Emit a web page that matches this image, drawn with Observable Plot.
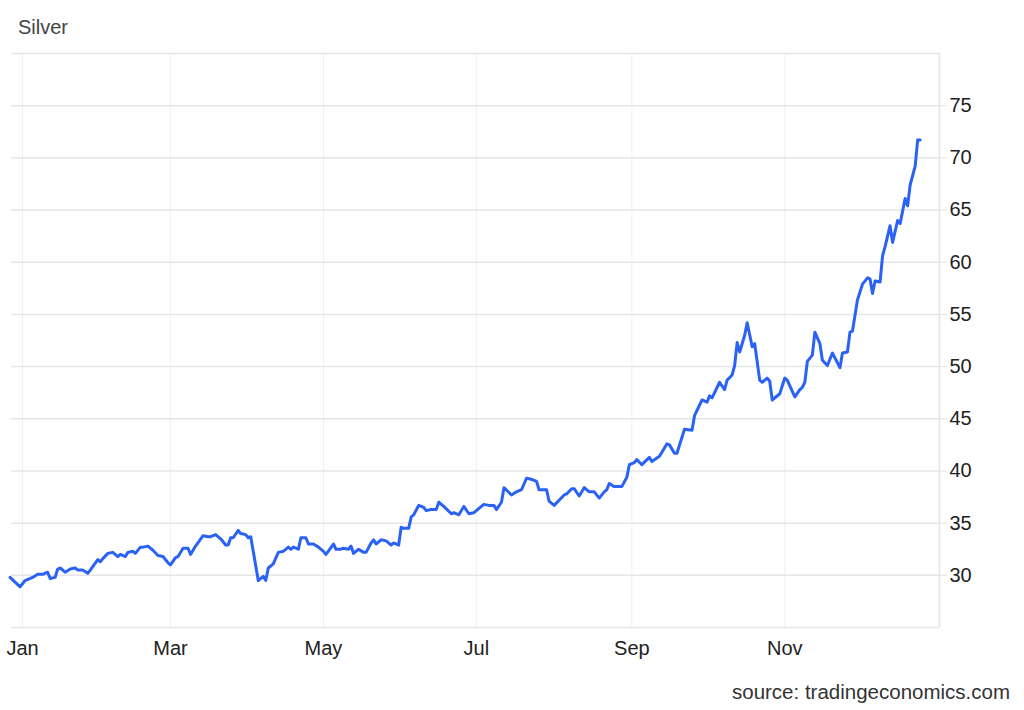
<!DOCTYPE html>
<html>
<head>
<meta charset="utf-8">
<script src="https://cdn.jsdelivr.net/npm/d3@7"></script>
<script src="https://cdn.jsdelivr.net/npm/@observablehq/plot@0.6"></script>
<style>
  html, body { margin: 0; padding: 0; background: #fff; }
  #wrap { position: relative; width: 1024px; height: 710px; font-family: "Liberation Sans", Arial, sans-serif; }
  #title { position: absolute; left: 18px; top: 16px; font-size: 20px; color: #444; }
  #source { position: absolute; right: 14px; top: 680px; font-size: 20.5px; color: #333; }
  #chart { position: absolute; left: 0; top: 0; }
</style>
</head>
<body>
<div id="wrap">
  <div id="chart"></div>
  <div id="title">Silver</div>
  <div id="source">source: tradingeconomics.com</div>
</div>
<script>
const dates = [
  "2024-12-27","2024-12-31","2025-01-02","2025-01-05","2025-01-07","2025-01-09","2025-01-11","2025-01-12","2025-01-14","2025-01-15",
  "2025-01-16","2025-01-18","2025-01-20","2025-01-22","2025-01-23","2025-01-25","2025-01-27","2025-01-28","2025-01-31","2025-02-01",
  "2025-02-02","2025-02-04","2025-02-06","2025-02-08","2025-02-09","2025-02-11","2025-02-12","2025-02-14","2025-02-15","2025-02-17",
  "2025-02-18","2025-02-20","2025-02-22","2025-02-24","2025-02-26","2025-02-28","2025-03-01","2025-03-03","2025-03-04","2025-03-06",
  "2025-03-08","2025-03-09","2025-03-11","2025-03-14","2025-03-16","2025-03-17","2025-03-19","2025-03-21","2025-03-23","2025-03-24",
  "2025-03-25","2025-03-26","2025-03-28","2025-03-29","2025-03-31","2025-04-01","2025-04-02","2025-04-05","2025-04-07","2025-04-08",
  "2025-04-09","2025-04-11","2025-04-13","2025-04-15","2025-04-17","2025-04-18","2025-04-19","2025-04-21","2025-04-22","2025-04-24",
  "2025-04-25","2025-04-27","2025-04-29","2025-05-01","2025-05-02","2025-05-05","2025-05-06","2025-05-08","2025-05-09","2025-05-11",
  "2025-05-12","2025-05-13","2025-05-15","2025-05-17","2025-05-18","2025-05-20","2025-05-21","2025-05-22","2025-05-24","2025-05-26",
  "2025-05-28","2025-05-29","2025-05-31","2025-06-01","2025-06-02","2025-06-04","2025-06-05","2025-06-06","2025-06-08","2025-06-10",
  "2025-06-11","2025-06-13","2025-06-15","2025-06-16","2025-06-18","2025-06-21","2025-06-22","2025-06-24","2025-06-26","2025-06-28",
  "2025-06-30","2025-07-03","2025-07-04","2025-07-06","2025-07-08","2025-07-09","2025-07-11","2025-07-12","2025-07-15","2025-07-17",
  "2025-07-19","2025-07-21","2025-07-23","2025-07-25","2025-07-26","2025-07-29","2025-07-30","2025-08-01","2025-08-03","2025-08-05",
  "2025-08-06","2025-08-08","2025-08-09","2025-08-11","2025-08-13","2025-08-15","2025-08-17","2025-08-19","2025-08-21","2025-08-22",
  "2025-08-23","2025-08-25","2025-08-28","2025-08-30","2025-08-31","2025-09-02","2025-09-03","2025-09-05","2025-09-08","2025-09-09",
  "2025-09-12","2025-09-13","2025-09-15","2025-09-16","2025-09-18","2025-09-19","2025-09-22","2025-09-25","2025-09-26","2025-09-29",
  "2025-10-01","2025-10-02","2025-10-03","2025-10-06","2025-10-08","2025-10-09","2025-10-11","2025-10-12","2025-10-13","2025-10-14",
  "2025-10-16","2025-10-17","2025-10-19","2025-10-20","2025-10-22","2025-10-23","2025-10-25","2025-10-26","2025-10-27","2025-10-30",
  "2025-11-01","2025-11-02","2025-11-05","2025-11-07","2025-11-08","2025-11-09","2025-11-10","2025-11-12","2025-11-13","2025-11-15",
  "2025-11-16","2025-11-18","2025-11-20","2025-11-23","2025-11-24","2025-11-26","2025-11-27","2025-11-28","2025-11-30","2025-12-02",
  "2025-12-04","2025-12-05","2025-12-06","2025-12-07","2025-12-09","2025-12-10","2025-12-11","2025-12-13","2025-12-14","2025-12-16",
  "2025-12-17","2025-12-19","2025-12-20","2025-12-21","2025-12-23","2025-12-24","2025-12-25"
];
const values = [
  29.8,28.9,29.5,29.8,30.1,30.1,30.3,29.7,29.8,30.6,
  30.7,30.3,30.6,30.7,30.5,30.5,30.2,30.5,31.5,31.3,
  31.6,32.1,32.2,31.8,32.0,31.8,32.2,32.3,32.1,32.7,
  32.7,32.8,32.4,31.9,31.8,31.2,31.0,31.7,31.8,32.6,
  32.6,32.0,32.8,33.8,33.7,33.7,33.9,33.5,32.9,32.9,
  33.6,33.6,34.3,34.0,33.9,33.6,33.7,29.5,29.9,29.5,
  30.7,31.1,32.2,32.3,32.7,32.5,32.7,32.5,33.6,33.6,
  33.0,33.0,32.7,32.3,32.0,33.0,32.5,32.5,32.6,32.5,
  32.8,32.1,32.5,32.2,32.2,33.1,33.4,33.0,33.4,33.3,
  32.9,33.1,32.9,34.6,34.5,34.5,35.6,35.8,36.7,36.5,
  36.2,36.3,36.3,37.0,36.6,35.9,36.0,35.8,36.6,35.9,
  36.0,36.6,36.8,36.7,36.7,36.3,37.0,38.4,37.7,38.0,
  38.2,39.3,39.2,39.0,38.2,38.2,37.1,36.7,37.2,37.7,
  37.8,38.3,38.3,37.6,38.4,38.0,38.0,37.4,38.0,38.2,
  38.8,38.5,38.5,39.4,40.6,40.8,41.1,40.6,41.3,40.9,
  41.4,41.8,42.6,42.5,41.7,41.7,44.0,43.9,45.3,46.8,
  46.6,47.2,47.0,48.5,47.8,48.7,49.2,50.1,52.3,51.4,
  53.0,54.2,51.9,52.2,48.7,48.5,48.9,48.6,46.8,47.4,
  48.9,48.7,47.1,47.8,48.0,48.5,50.5,51.1,53.3,52.2,
  50.6,50.1,51.3,49.9,51.3,51.4,53.3,53.4,56.4,57.9,
  58.5,58.4,57.0,58.2,58.1,60.6,61.5,63.5,61.9,64.0,
  63.7,66.1,65.4,67.4,69.2,71.7,71.7
];
const monthTicks = ["2025-01-01","2025-03-01","2025-05-01","2025-07-01","2025-09-01","2025-11-01"];
const gridValues = [25,30,35,40,45,50,55,60,65,70,75,80];
const labelValues = [30,35,40,45,50,55,60,65,70,75];

const parse = s => new Date(s + "T00:00:00Z");
const data = dates.map((d, i) => ({date: parse(d), value: values[i]}));
const xTicks = monthTicks.map(parse);
const xDomain = [new Date(Date.UTC(2024, 11, 27, 14)), new Date(Date.UTC(2026, 0, 1, 17))];

const chart = Plot.plot({
  width: 1024,
  height: 710,
  marginTop: 53,
  marginBottom: 83,
  marginLeft: 11,
  marginRight: 85,
  style: {fontFamily: "'Liberation Sans', Arial, sans-serif", fontSize: "20px", color: "#222", background: "#fff"},
  x: {type: "utc", domain: xDomain},
  y: {domain: [25, 80]},
  marks: [
    Plot.gridX(xTicks, {stroke: "#edf1f6", strokeOpacity: 1, strokeWidth: 1}),
    Plot.gridY(gridValues, {stroke: "#e6e6e6", strokeOpacity: 1, strokeWidth: 1.5}),
    Plot.ruleX([xDomain[1]], {stroke: "#e3e3e3", strokeWidth: 1.5}),
    Plot.axisY(labelValues, {anchor: "right", tickSize: 7, tickPadding: 3, stroke: "#e3e3e3", strokeOpacity: 1, fill: "#222", fontSize: 20, label: null}),
    Plot.axisX(xTicks, {anchor: "bottom", tickSize: 0, tickPadding: 13, tickFormat: d3.utcFormat("%b"), fill: "#222", fontSize: 20, label: null}),
    Plot.lineY(data, {x: "date", y: "value", stroke: "#2a62f5", strokeWidth: 3, curve: "linear"})
  ]
});
document.getElementById("chart").appendChild(chart);
</script>
</body>
</html>
